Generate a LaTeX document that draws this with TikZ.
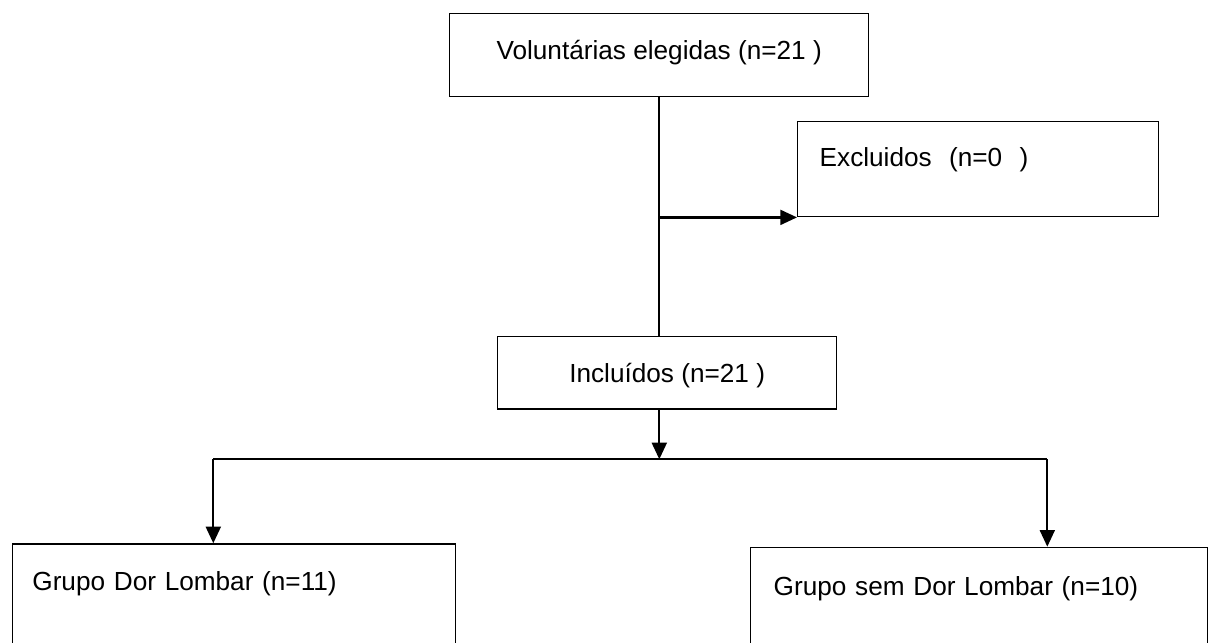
\documentclass[tikz,border=0pt]{standalone}
\usepackage{fontspec}
\setmainfont{Liberation Sans}
\usepackage{tikz}
\usetikzlibrary{calc,positioning,arrows.meta}
\tikzset{
	>={Triangle[length=9.5pt,width=8.5pt]},
	line/.style={line width=1.3pt},
	box/.style={draw, line width=0.8pt, anchor=north west, inner ysep=0pt,
		font=\fontsize{14.9pt}{18pt}\selectfont},
	midbox/.style={box, align=center},
	leftbox/.style={box, align=left},
}

\begin{document}
\begin{tikzpicture}[x=0.02cm, y=-0.02cm]
		\useasboundingbox (0,0) rectangle (1209,642);

		\node[midbox, minimum width=8.38cm, text height=0.926cm, text depth=0.74cm] (vol) at (449,12.7) {Voluntárias elegidas (n=21 )};
		\node[leftbox, inner xsep=0.44cm, text width=6.34cm, text height=0.9cm, text depth=1.006cm] (excl) at (797,120.7) {Excluidos\ \ (n=0\ \ )};
		\node[midbox, minimum width=6.78cm, text height=0.914cm, text depth=0.532cm] (incl) at (497,336) {Incluídos (n=21 )};
		\node[leftbox, inner xsep=0.4cm, text width=8.066cm, text height=0.934cm, text depth=1.4cm] (dor) at (11.7,543.3) {Grupo Dor Lombar (n=11)};
		\node[leftbox, inner xsep=0.466cm, text width=8.214cm, text height=0.966cm, text depth=1.4cm] (semdor) at (749.7,546.7) {Grupo sem Dor Lombar (n=10)};

		\coordinate (split) at (659.3,459.3);
		\coordinate (dl) at (213.3,459.3);
		\coordinate (sl) at (1047.3,459.3);

		\draw[line] (vol.south -| split) -- (split |- incl.north);
		\draw[line, ->] (split |- excl.south west) -- (excl.south west);
		\draw[line, ->] (split |- incl.south) -- (split);
		\draw[line] (dl) -- (sl);
		\draw[line, ->] (dl) -- (dl |- dor.north);
		\draw[line, ->] (sl) -- (sl |- semdor.north);
	\end{tikzpicture}
\end{document}
